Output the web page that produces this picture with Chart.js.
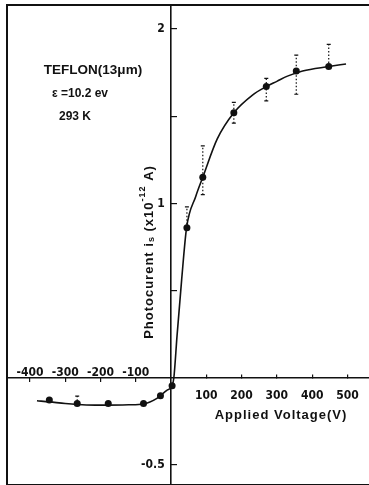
<!DOCTYPE html>
<html><head><meta charset="utf-8">
<script src="https://cdn.jsdelivr.net/npm/chart.js@4.4.1/dist/chart.umd.min.js"></script>
<style>html,body{margin:0;padding:0;background:#fff;overflow:hidden;width:369px;height:485px;}canvas{display:block;}</style>
</head><body>
<canvas id="c" width="374" height="489"></canvas>
<script>
// ---- data ----
const pointV = [-345, -266, -178, -78, -30, 3, 45, 90, 178, 270, 355, 447];
const pointI = [-0.128, -0.148, -0.148, -0.148, -0.103, -0.046, 0.86, 1.15, 1.52, 1.67, 1.76, 1.785];
const curveV = [-380, -345, -300, -240, -180, -120, -78, -40, -12, 3, 8, 17, 30, 44, 70, 90, 131, 178, 230, 270, 300, 330, 373, 447, 496];
const curveI = [-0.132, -0.138, -0.148, -0.156, -0.157, -0.155, -0.150, -0.118, -0.072, -0.046, 0.0, 0.24, 0.56, 0.86, 1.04, 1.15, 1.37, 1.52, 1.62, 1.67, 1.70, 1.73, 1.76, 1.785, 1.80];
const barV = [-266, 45, 90, 178, 270, 355, 447];
const barLow = [-0.152, 0.86, 1.05, 1.46, 1.588, 1.626, 1.785];
const barHigh = [-0.105, 0.98, 1.33, 1.58, 1.717, 1.85, 1.912];
const xPosTicks = [100, 200, 300, 400, 500];
const xNegTicks = [-400, -300, -200, -100];
const yMarkTicks = [-0.5, 0.5, 1, 1.5, 2];
const yLabelTicks = [2, 1, -0.5];
const yLabelText = ['2', '1', '-0.5'];
const noteLines = ['TEFLON(13\u03bcm)', '\u03b5 =10.2 ev', '293 K'];
const xTitle = 'Applied Voltage(V)';

const INK = '#111';
const NUMFONT = "'Liberation Sans Narrow','DejaVu Sans Condensed','Liberation Sans',sans-serif";
const TXTFONT = "'Liberation Sans','DejaVu Sans',sans-serif";

const noPad = s => { s.paddingTop = 0; s.paddingBottom = 0; s.paddingLeft = 0; s.paddingRight = 0; };

const extras = {
  id: 'extras',
  afterDatasetsDraw(chart) {
    const c = chart.ctx, xs = chart.scales.x, ys = chart.scales.y, a = chart.chartArea;
    c.save();
    // frame
    c.strokeStyle = INK; c.lineWidth = 2;
    c.strokeRect(a.left, a.top, a.right - a.left + 8, a.bottom - a.top);
    // error bars
    c.lineWidth = 1.2;
    barV.forEach((v, i) => {
      const px = xs.getPixelForValue(v);
      const lo = ys.getPixelForValue(barLow[i]), hi = ys.getPixelForValue(barHigh[i]);
      c.setLineDash([1.5, 2]);
      c.beginPath(); c.moveTo(px, lo); c.lineTo(px, hi); c.stroke();
      c.setLineDash([]);
      c.beginPath();
      c.moveTo(px - 2, hi); c.lineTo(px + 2, hi);
      c.moveTo(px - 2, lo); c.lineTo(px + 2, lo);
      c.stroke();
    });
    // annotations
    c.fillStyle = INK; c.textAlign = 'center'; c.textBaseline = 'middle';
    c.font = "bold 13.5px " + TXTFONT; c.fillText(noteLines[0], 93, 70);
    c.font = "bold 12px " + TXTFONT; c.fillText(noteLines[1], 80, 94);
    c.font = "bold 12px " + TXTFONT; c.fillText(noteLines[2], 75, 117);
    // x title
    c.font = "bold 13px " + TXTFONT;
    c.letterSpacing = '1px';
    c.fillText(xTitle, 281, 415);
    // y title (rotated, bottom to top)
    c.translate(149, 252);
    c.rotate(-Math.PI / 2);
    c.textAlign = 'left'; c.textBaseline = 'middle';
    c.letterSpacing = '1px';
    const big = "bold 13px " + TXTFONT, small = "bold 9px " + TXTFONT;
    const parts = [['Photocurent i', big, 0], ['s', small, 3], [' (x10', big, 0], ['-12', small, -6], [' A)', big, 0]];
    let w = 0;
    parts.forEach(p => { c.font = p[1]; w += c.measureText(p[0]).width; });
    let x = -w / 2;
    parts.forEach(p => { c.font = p[1]; c.fillText(p[0], x, p[2]); x += c.measureText(p[0]).width; });
    c.letterSpacing = '0px';
    c.restore();
  }
};

const tickFont = { family: NUMFONT, size: 12, weight: 'bold' };

new Chart(document.getElementById('c'), {
  type: 'scatter',
  data: {
    datasets: [
      {
        label: 'fit',
        data: curveV.map((v, i) => ({ x: v, y: curveI[i] })),
        showLine: true, borderColor: INK, borderWidth: 1.6, pointRadius: 0,
        cubicInterpolationMode: 'monotone', fill: false
      },
      {
        label: 'measured',
        data: pointV.map((v, i) => ({ x: v, y: pointI[i] })),
        showLine: false, pointRadius: 3.5, backgroundColor: INK, borderColor: INK, borderWidth: 0
      }
    ]
  },
  options: {
    responsive: false, animation: false, devicePixelRatio: 1,
    layout: { padding: { left: 7, top: 5, right: 0, bottom: 1 } },
    plugins: { legend: { display: false }, tooltip: { enabled: false } },
    scales: {
      x: {
        type: 'linear', min: -465, max: 564, position: { y: 0 },
        afterBuildTicks: s => { s.ticks = xPosTicks.map(v => ({ value: v })); },
        afterFit: noPad,
        grid: { drawOnChartArea: false, tickLength: -4, color: INK, lineWidth: 1.2 },
        border: { color: INK, width: 1.6 },
        ticks: { color: INK, font: tickFont, padding: 15, autoSkip: false, maxRotation: 0 }
      },
      x2: {
        type: 'linear', axis: 'x', min: -465, max: 564, position: { y: 0 },
        afterBuildTicks: s => { s.ticks = xNegTicks.map(v => ({ value: v })); },
        afterFit: noPad,
        grid: { drawOnChartArea: false, tickLength: 4, color: INK, lineWidth: 1.2 },
        border: { display: false },
        ticks: { color: INK, font: tickFont, padding: -16, autoSkip: false, maxRotation: 0 }
      },
      y: {
        type: 'linear', min: -0.615, max: 2.138, position: { x: 0 },
        afterBuildTicks: s => { s.ticks = yMarkTicks.map(v => ({ value: v })); },
        afterFit: noPad,
        grid: { drawOnChartArea: false, tickLength: -7, color: INK, lineWidth: 1.2 },
        border: { color: INK, width: 1.6 },
        ticks: { display: false }
      },
      y2: {
        type: 'linear', axis: 'y', min: -0.615, max: 2.138, position: { x: -18 },
        afterBuildTicks: s => { s.ticks = yLabelTicks.map(v => ({ value: v })); },
        afterFit: noPad,
        grid: { display: false, drawOnChartArea: false, drawTicks: false },
        border: { display: false },
        ticks: {
          color: INK, font: tickFont, padding: 0, autoSkip: false,
          callback: v => { const k = yLabelTicks.indexOf(v); return k >= 0 ? yLabelText[k] : ''; }
        }
      }
    }
  },
  plugins: [extras]
});
</script>
</body></html>
